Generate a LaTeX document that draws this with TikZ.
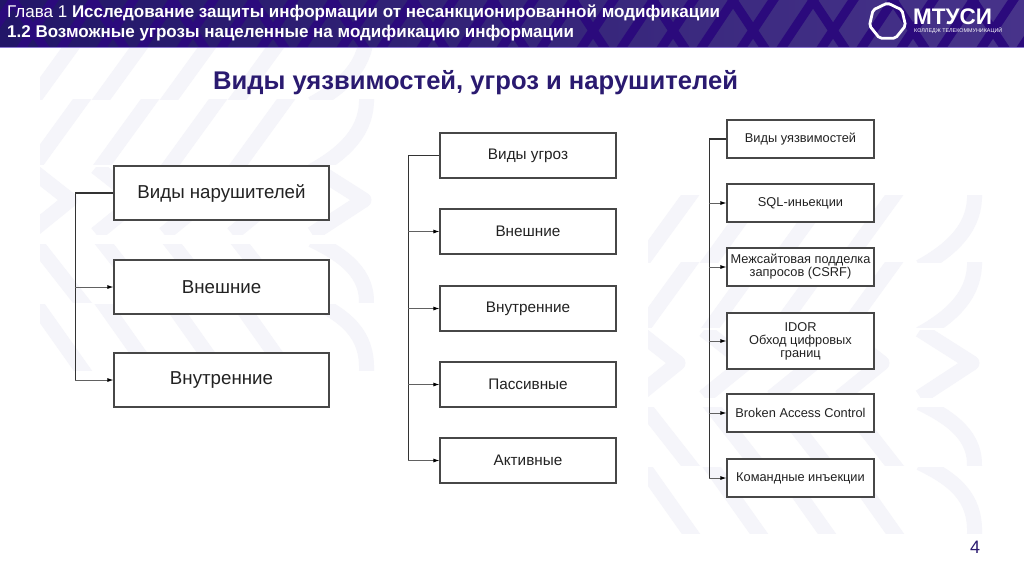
\documentclass[tikz,border=0pt]{standalone}
\usepackage{fontspec}
\setmainfont{Liberation Sans}
\usepackage{xcolor}
\usetikzlibrary{arrows.meta, positioning, calc, shapes.geometric}
\definecolor{hdrdark}{HTML}{2B0A7C}
\definecolor{hdrnavy}{HTML}{221668}
\definecolor{hdrlite}{HTML}{47338A}
\definecolor{hdrline}{HTML}{8A78D0}
\definecolor{titleblue}{HTML}{2A1A70}
\definecolor{wmark}{HTML}{F5F5FA}
\definecolor{boxtxt}{HTML}{222222}
\tikzset{
  vidbox/.style={draw=black!72, line width=1.1pt, fill=white, align=center,
                 inner sep=0pt, text=boxtxt},
  trunkline/.style={draw=black!80, line width=1pt},
  topline/.style={draw=black!80, line width=1.8pt},
  branchline/.style={draw=black!62, line width=0.9pt,
                     -{Latex[length=6pt,width=4pt,black]}},
  wstroke/.style={line width=15pt, wmark, line join=round},
  hstroke/.style={line width=9pt, hdrdark}
}

\begin{document}
\begin{tikzpicture}[x=1pt,y=-1pt]
  \useasboundingbox (0,0) rectangle (1024,574);
  \fill[white] (0,0) rectangle (1024,574);

  % pale background tiles
  \foreach \tx/\ty in {40/32, 648/195} {
    \begin{scope}[shift={(\tx,\ty)}]
      \clip (0,0) rectangle (340,338);
      % two rows of forward strokes
      \foreach \ry/\rh in {0/67, 67/65} {
        \begin{scope}
          \clip (0,\ry) rectangle (340,\ry+\rh);
          \foreach \cx in {0,68,136,204}
            \draw[wstroke] (\cx-10,\ry+72) -- (\cx+48,\ry-8);
          \draw[wstroke] (272,\ry+72) .. controls (312,\ry+50) and (330,\ry+25) .. (326,\ry-8);
        \end{scope}
      }
      % row of chevrons
      \begin{scope}
        \clip (0,135) rectangle (340,202);
        \foreach \cx in {0,68,136,204}
          \draw[wstroke] (\cx-12,135) -- (\cx+30,168) -- (\cx-12,202);
        \draw[wstroke] (272,135) -- (324,168) -- (272,202);
      \end{scope}
      % two rows of backward strokes
      \foreach \ry/\rh in {212/58, 272/66} {
        \begin{scope}
          \clip (0,\ry) rectangle (340,\ry+\rh);
          \foreach \cx in {0,68,136,204}
            \draw[wstroke] (\cx-10,\ry-8) -- (\cx+48,\ry+\rh+8);
          \draw[wstroke] (272,\ry-4) .. controls (312,\ry+15) and (330,\ry+35) .. (326,\ry+\rh+8);
        \end{scope}
      }
    \end{scope}
  }

  % header band
  \shade[left color=hdrnavy, middle color=hdrnavy!60!hdrlite, right color=hdrlite]
    (0,0) rectangle (1024,47);
  \begin{scope}
    \clip (0,0) rectangle (1024,47);
    \foreach \x in {-20,20,...,1040}
      \draw[hstroke] (\x,50) -- ++(36,-54);
    \foreach \x in {10,90,...,1040}
      \draw[hstroke] (\x,-4) -- ++(36,54);
  \end{scope}
  \draw[hdrline, line width=1pt] (0,47) -- (1024,47);

  \node[anchor=west, white, inner sep=0pt, font=\fontsize{17}{19}\selectfont] (glava) at (7,13)
    {Глава 1 \textbf{Исследование защиты информации от несанкционированной модификации}};
  \node[anchor=west, white, inner sep=0pt, font=\fontsize{17}{19}\selectfont\bfseries] (punkt) at (7,33)
    {1.2 Возможные угрозы нацеленные на модификацию информации};

  % logo
  \node[regular polygon, regular polygon sides=7, draw=white, line width=2.8pt,
        rounded corners=2pt, minimum size=37pt, inner sep=0pt] (gept) at (887.5,21.5) {};
  \node[anchor=west, white, inner sep=0pt, font=\fontsize{22.5}{24}\selectfont\bfseries] (mtusi) at (913,16.5) {МТУСИ};
  \node[anchor=west, white, inner sep=0pt, font=\fontsize{5.4}{6}\selectfont] (kolledzh) at (914,31) {КОЛЛЕДЖ ТЕЛЕКОММУНИКАЦИЙ};

  \node[titleblue, font=\fontsize{25.6}{28}\selectfont\bfseries] (zagolovok) at (475.5,83)
    {Виды уязвимостей, угроз и нарушителей};

  % left column
  \foreach \name/\y/\txt in {nar1/193/Виды нарушителей, nar2/287/Внешние, nar3/380/Внутренние}
    \node[vidbox, minimum width=215pt, minimum height=54pt,
          font=\fontsize{18.7}{21}\selectfont] (\name) at (221.5,\y) {\txt};
  \coordinate (narTop) at (75,193);
  \draw[trunkline] (narTop) -- (narTop |- nar3.west);
  \draw[topline] (nar1.west) -- (narTop);
  \foreach \name in {nar2,nar3}
    \draw[branchline] (narTop |- \name.west) -- (\name.west);

  % middle column
  \foreach \name/\y/\txt in {ugr1/155.5/Виды угроз, ugr2/231.5/Внешние, ugr3/308.5/Внутренние,
                             ugr4/384.5/Пассивные, ugr5/460.5/Активные}
    \node[vidbox, minimum width=176pt, minimum height=45pt,
          font=\fontsize{15.3}{17}\selectfont] (\name) at (528,\y) {\txt};
  \coordinate (ugrTop) at (408,155.5);
  \draw[trunkline] (ugrTop) -- (ugrTop |- ugr5.west);
  \draw[topline] (ugr1.west) -- (ugrTop);
  \foreach \name in {ugr2,ugr3,ugr4,ugr5}
    \draw[branchline] (ugrTop |- \name.west) -- (\name.west);

  % right column
  \foreach \name/\y/\hh/\txt in {uya1/139/38/Виды уязвимостей, uya2/203/38/SQL-иньекции,
      uya3/267/38/{Межсайтовая подделка\\запросов (CSRF)},
      uya4/341/56/{IDOR\\Обход цифровых\\границ},
      uya5/413/38/Broken Access Control, uya6/478/38/Командные инъекции}
    \node[vidbox, minimum width=147pt, minimum height=\hh pt,
          font=\fontsize{12.8}{13}\selectfont] (\name) at (800.5,\y) {\txt};
  \coordinate (uyaTop) at (709,139);
  \draw[trunkline] (uyaTop) -- (uyaTop |- uya6.west);
  \draw[topline] (uya1.west) -- (uyaTop);
  \foreach \name in {uya2,uya3,uya4,uya5,uya6}
    \draw[branchline] (uyaTop |- \name.west) -- (\name.west);

  \node[titleblue, font=\fontsize{18}{21}\selectfont] (nomer) at (975,547) {4};
\end{tikzpicture}
\end{document}
